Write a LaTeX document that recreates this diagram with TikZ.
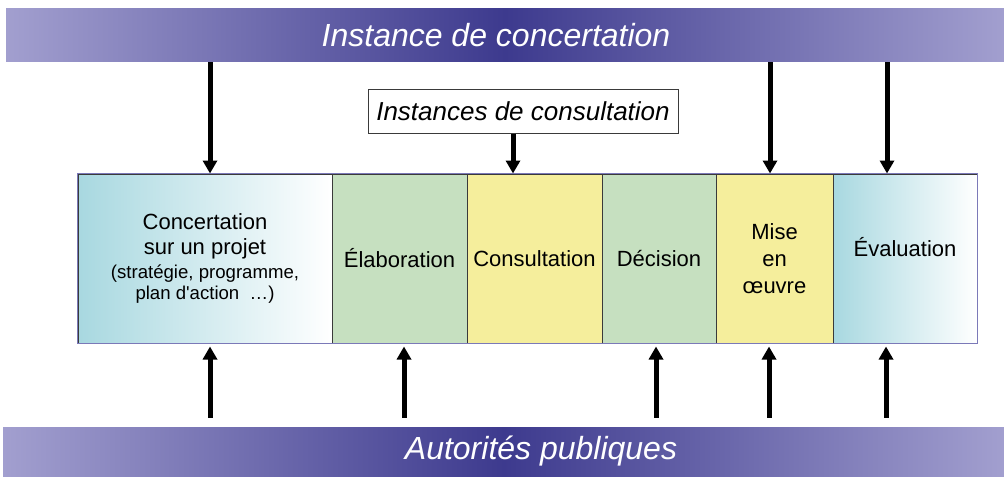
\documentclass[tikz,border=0pt]{standalone}
\usepackage{fontspec}
\setmainfont{Liberation Sans}
\usetikzlibrary{arrows.meta}

\definecolor{bandlight}{HTML}{A29FCF}
\definecolor{banddark}{HTML}{3D3A8E}
\definecolor{cellblue}{HTML}{A8D8E0}
\definecolor{cellgreen}{HTML}{C6E0C0}
\definecolor{cellyellow}{HTML}{F5EE9C}
\definecolor{stripline}{HTML}{7B79B8}
\definecolor{cellline}{HTML}{3A3A3A}

% light - dark - light across the band
\pgfdeclarehorizontalshading{bandshade}{100bp}{color(0bp)=(bandlight); color(25bp)=(bandlight);
  color(50bp)=(banddark); color(75bp)=(bandlight); color(100bp)=(bandlight)}

\tikzstyle{band}=[shading=bandshade, minimum height=26.5pt, inner sep=0pt, text=white,
  font=\fontsize{16}{19}\selectfont\itshape]
\tikzstyle{cell}=[draw=cellline, line width=0.5pt, minimum height=84.5pt, inner sep=0pt,
  align=center, font=\fontsize{11}{12.5}\selectfont]
\tikzstyle{box}=[draw=cellline, line width=0.5pt, fill=white, minimum width=155pt,
  minimum height=21.5pt, inner sep=0pt, font=\fontsize{13}{15}\selectfont\itshape]
\tikzstyle{arrow}=[line width=2.5pt, -{Triangle[width=7pt, length=6.5pt]}]

\begin{document}
\begin{tikzpicture}[x=0.5pt, y=-0.5pt]
      \useasboundingbox (0,0) rectangle (1004,476);

      \node[band, minimum width=499pt] (instance) at (505,35.5) {Instance de concertation\hspace*{9pt}};
      \node[band, minimum width=500.5pt, minimum height=24.5pt] (autorites) at (503.5,451.5) {\hspace*{37.5pt}Autorités publiques};
      \node[box] (consult) at (523,111.5) {Instances de consultation};

      % the steps
      \node[cell, minimum width=127pt, left color=cellblue, right color=white] (projet) at (205,258.5)
        {Concertation\\sur un projet\\[-0.5pt]{\fontsize{9.3}{10.5}\selectfont(stratégie, programme,}\\[-2pt]{\fontsize{9.3}{10.5}\selectfont plan d\textquotesingle action\ \ …)}};
      \node[cell, minimum width=67.5pt, fill=cellgreen] (elab) at (399.5,258.5) {Élaboration};
      \node[cell, minimum width=67.5pt, fill=cellyellow] (consultation) at (534.5,258.5) {Consultation};
      \node[cell, minimum width=57pt, fill=cellgreen] (decision) at (659,258.5) {Décision};
      \node[cell, minimum width=58.5pt, fill=cellyellow] (mise) at (774.5,258.5) {Mise\\[1pt]en\\[1pt]œuvre};
      \node[cell, minimum width=72pt, left color=cellblue, right color=white, text depth=11.5pt] (eval) at (905,258.5) {Évaluation};
      \draw[stripline, line width=0.8pt] (projet.north west) rectangle (eval.south east);

      \draw[arrow] ([xshift=2.5pt]projet.north |- instance.south) to ([xshift=2.5pt]projet.north);
      \draw[arrow] ([xshift=-5pt]consult.south) to ([xshift=-5pt]consult.south |- consultation.north);
      \draw[arrow] ([xshift=-2.25pt]mise.north |- instance.south) to ([xshift=-2.25pt]mise.north);
      \draw[arrow] ([xshift=-9pt]eval.north |- instance.south) to ([xshift=-9pt]eval.north);

      \draw[arrow] ([xshift=2.5pt,yshift=4.5pt]projet.south |- autorites.north) to ([xshift=2.5pt,yshift=-1.5pt]projet.south);
      \draw[arrow] ([xshift=2.25pt,yshift=4.5pt]elab.south |- autorites.north) to ([xshift=2.25pt,yshift=-1.5pt]elab.south);
      \draw[arrow] ([xshift=-1.5pt,yshift=4.5pt]decision.south |- autorites.north) to ([xshift=-1.5pt,yshift=-1.5pt]decision.south);
      \draw[arrow] ([xshift=-2.75pt,yshift=4.5pt]mise.south |- autorites.north) to ([xshift=-2.75pt,yshift=-1.5pt]mise.south);
      \draw[arrow] ([xshift=-9.5pt,yshift=4.5pt]eval.south |- autorites.north) to ([xshift=-9.5pt,yshift=-1.5pt]eval.south);
    \end{tikzpicture}
\end{document}
